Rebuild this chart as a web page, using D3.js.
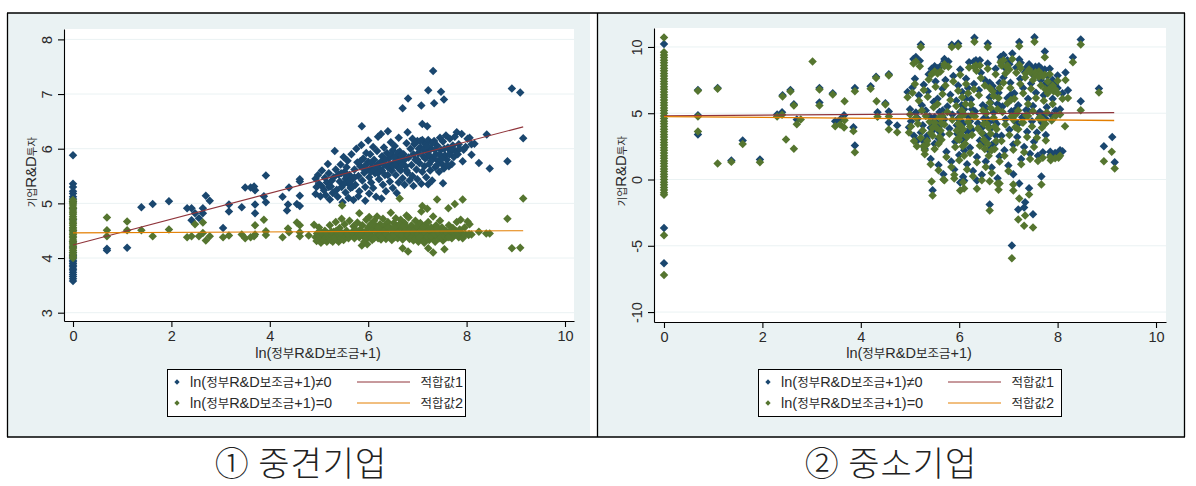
<!DOCTYPE html>
<html><head><meta charset="utf-8">
<script src="https://cdnjs.cloudflare.com/ajax/libs/d3/7.8.5/d3.min.js"></script>
<style>html,body{margin:0;padding:0;background:#fff}svg{display:block}</style></head><body>
<svg id="c" width="1196" height="486"></svg>
<script>
const xTicks=[0,2,4,6,8,10];
const yTicks1=[3,4,5,6,7,8];
const yTicks2=[-10,-5,0,5,10];
const xTitle="ln(정부R&D보조금+1)";
const yTitle="기업R&D투자";
const legendLabels=["ln(정부R&D보조금+1)≠0","ln(정부R&D보조금+1)=0","적합값1","적합값2"];
const titles=["① 중견기업","② 중소기업"];

// Panel 1: x = 0 columns
const zero1Blue=[3.58,3.62,3.66,3.7,3.74,3.78,3.8,3.84,3.87,3.9,3.93,3.96,4,4.05,4.1,4.2,4.3,4.5,4.7,4.9,5.03,5.08,5.12,5.18,5.22,5.3,5.36,5.88];
const zero1Green=[4.0,4.03,4.07,4.1,4.14,4.17,4.2,4.24,4.27,4.3,4.33,4.37,4.4,4.43,4.46,4.5,4.53,4.56,4.6,4.63,4.66,4.7,4.73,4.76,4.8,4.83,4.86,4.9,4.93,4.97,5,5.03,5.06];
const fit1a=[[0,4.24],[9.15,6.4]];
const fit1b=[[0,4.46],[9.15,4.5]];
const blue1=[[.69,4.14],[.69,4.17],[1.1,4.19],[1.39,4.93],[1.62,4.99],[1.95,5.04],[2.32,4.91],[2.41,4.91],[2.64,4.91],[2.48,4.82],[2.64,4.82],[2.41,4.69],[2.56,4.73],[2.7,5.14],[2.78,5.05],[3.05,4.55],[3.17,4.98],[3.17,4.85],[3.43,4.93],[3.5,5.29],[3.61,5.29],[3.68,5.31],[3.7,5.24],[3.7,4.98],[3.7,4.82],[3.88,5.13],[3.92,5.02],[3.92,5.51],[4.26,5.12],[4.37,4.98],[4.35,4.87],[4.39,5.29],[4.55,4.99],[4.61,4.95],[4.61,5.14],[4.61,5.44],[4.61,5.4],[4.93,5.17],[4.95,5.3],[4.93,5.45],[4.98,5.52],[5.0,5.36],
[7.32,7.42],[7.22,7.07],[7.48,7.04],[6.81,6.92],[7.54,6.9],[7.34,6.83],[7.08,6.79],[6.7,6.74],[8.92,7.1],[9.09,7.03],[9.15,6.19],[8.83,5.77],[8.47,5.64],[8.25,5.74],[8.1,5.89],[8.41,6.26],[7.92,5.77],[7.52,5.37],[7.22,5.35],[6.58,5.19],[6.27,5.09],[5.87,6.41],[7.1,6.45],[7.2,6.41],
[5.03,5.13],[5.05,5.32],[5.06,5.6],[5.1,5.24],[5.12,5.47],[5.14,5.15],[5.16,5.38],[5.18,5.72],[5.2,5.55],[5.22,5.07],[5.24,5.31],[5.26,5.42],[5.28,5.19],[5.3,5.48],[5.32,5.96],[5.34,5.62],[5.36,5.25],[5.38,5.12],[5.4,5.53],[5.42,5.4],[5.44,5.71],[5.46,5.3],[5.48,5.02],[5.5,5.85],[5.52,5.58],[5.54,5.45],[5.54,5.2],[5.56,5.66],[5.58,5.78],[5.6,5.36],[5.6,5.1],[5.62,5.52],[5.64,5.28],[5.66,5.9],[5.68,5.44],[5.7,5.06],[5.72,5.62],[5.74,5.34],[5.76,6.0],[5.78,5.75],[5.8,5.5],[5.8,5.13],[5.82,5.22],[5.84,5.68],[5.86,6.07],[5.88,5.42],[5.9,5.82],[5.92,5.56],[5.94,5.3],[5.94,5.05],[5.96,5.92],[5.98,5.62],[6.0,6.15],[6.0,5.76],[6.02,5.48],[6.02,5.18],[6.04,5.9],[6.06,5.38],[6.08,5.66],[6.1,6.03],[6.1,5.28],[6.12,5.8],[6.14,5.55],[6.16,5.12],[6.18,5.96],[6.2,5.72],[6.2,6.22],[6.22,5.44],[6.24,5.62],[6.26,6.27],[6.28,5.86],[6.3,5.34],[6.3,5.74],[6.32,6.02],[6.34,5.52],[6.36,5.22],[6.38,5.92],[6.4,6.32],[6.4,5.66],[6.42,5.82],[6.44,5.4],[6.46,6.12],[6.48,5.6],[6.5,5.97],[6.5,5.28],[6.52,5.74],[6.54,6.05],[6.56,5.52],[6.58,5.86],[6.6,5.66],[6.62,6.2],[6.62,5.38],[6.64,5.95],[6.66,5.6],[6.68,5.78],[6.7,5.46],[6.72,5.9],[6.74,5.34],[6.76,5.68],[6.78,6.1],[6.8,6.3],[6.8,5.56],[6.82,5.84],[6.84,5.42],[6.86,6.0],[6.88,5.7],[6.9,6.18],[6.9,5.5],[6.92,5.32],[6.94,6.08],[6.96,5.8],[6.98,5.62],[7.0,6.14],[7.0,5.44],[7.02,5.92],[7.04,5.74],[7.06,6.02],[7.08,5.36],[7.1,6.16],[7.1,5.58],[7.12,5.86],[7.14,5.68],[7.16,6.08],[7.18,5.48],[7.2,5.94],[7.22,6.16],[7.24,5.72],[7.26,5.6],[7.28,6.0],[7.3,5.42],[7.32,5.82],[7.34,6.14],[7.36,5.66],[7.38,5.9],[7.4,6.06],[7.42,5.78],[7.44,5.58],[7.46,6.2],[7.48,5.98],[7.5,5.72],[7.52,6.13],[7.54,5.64],[7.56,5.88],[7.58,6.24],[7.6,5.8],[7.62,6.02],[7.64,5.68],[7.66,6.18],[7.68,5.95],[7.7,5.72],[7.72,6.06],[7.74,5.85],[7.76,6.22],[7.78,5.96],[7.8,6.3],[7.82,5.9],[7.84,6.08],[7.86,6.0],[7.9,6.27],[7.94,5.98],[7.98,6.03],[8.02,6.18],[8.06,6.2],[8.1,6.08],[8.16,6.09],
[5.84,5.77],[5.9,5.64],[5.95,5.7],[6.05,5.58],[6.06,5.74],[6.12,5.62],[6.16,5.68],[6.2,5.55],[6.25,5.75],[6.28,5.6],[6.32,5.7],[6.35,5.8],[6.4,5.52],[6.43,5.7],[6.46,5.9],[6.5,5.68],[6.53,5.84],[6.56,5.72],[6.6,5.92],[6.63,5.78],[6.67,5.88],[6.7,5.7],[6.74,5.8],[6.78,5.6],[6.92,5.9],[6.95,6.1],[7.0,5.8],[7.03,6.0],[7.06,6.14],[7.12,5.98],[7.16,5.82],[7.2,6.05],[7.24,5.88],[7.28,5.78],[7.3,6.1],[7.35,5.98],[7.4,5.7],[7.45,5.9],[7.5,5.82],[7.55,6.0],[7.6,5.7],[7.65,5.9],[7.7,6.0],[5.2,5.3],[5.3,5.2],[5.45,5.55],[5.5,5.35],[5.56,5.5],[5.62,5.4],[5.68,5.3],[5.72,5.48]];
const green1=[[.69,4.74],[.69,4.51],[.69,4.4],[1.1,4.67],[1.1,4.51],[1.39,4.51],[1.62,4.4],[1.95,4.52],[2.32,4.38],[2.41,4.4],[2.48,4.62],[2.56,4.4],[2.64,4.65],[2.64,4.46],[2.7,4.32],[2.78,4.4],[3.05,4.38],[3.17,4.41],[3.43,4.43],[3.5,4.36],[3.61,4.38],[3.68,4.4],[3.7,4.43],[3.7,4.6],[3.88,4.7],[3.92,4.49],[3.92,4.42],[4.26,4.38],[4.37,4.54],[4.39,4.47],[4.55,4.65],[4.61,4.6],[4.61,4.47],[4.61,4.4],[4.79,4.41],[4.9,4.61],[4.93,4.38],[4.95,4.31],
[9.15,5.09],[8.83,4.72],[8.92,4.18],[9.09,4.19],[7.92,5.07],[7.76,4.99],[7.63,4.91],[7.4,5.07],[6.64,5.09],[5.47,4.96],[5.82,4.82],[6.46,4.83],[7.1,4.95],[7.08,4.85],[7.2,4.9],[6.7,4.18],[6.81,4.12],[7.22,4.18],[7.32,4.1],[7.55,4.16],[5.87,4.23],[5.98,4.25],[8.4,4.45],[8.47,4.45],[8.25,4.48],[8.1,4.43],[8.05,4.44],
[4.96,4.45],[4.98,4.33],[5.0,4.56],[5.02,4.4],[5.04,4.28],[5.06,4.36],[5.08,4.43],[5.1,4.33],[5.12,4.5],[5.14,4.38],[5.16,4.3],[5.18,4.45],[5.2,4.36],[5.22,4.6],[5.24,4.33],[5.26,4.41],[5.28,4.3],[5.3,4.48],[5.32,4.38],[5.34,4.66],[5.36,4.34],[5.38,4.44],[5.4,4.3],[5.42,4.55],[5.44,4.37],[5.46,4.72],[5.48,4.45],[5.5,4.33],[5.52,4.62],[5.54,4.4],[5.56,4.5],[5.6,4.36],[5.62,4.68],[5.66,4.42],[5.7,4.58],[5.72,4.36],[5.76,4.46],[5.78,4.65],[5.82,4.38],[5.84,4.52],[5.88,4.6],[5.9,4.4],[5.92,4.3],[5.94,4.48],[5.96,4.7],[5.98,4.36],[6.0,4.56],[6.02,4.75],[6.04,4.44],[6.05,4.62],[6.08,4.33],[6.1,4.52],[6.12,4.68],[6.14,4.4],[6.16,4.58],[6.18,4.76],[6.2,4.36],[6.22,4.48],[6.24,4.62],[6.26,4.34],[6.28,4.54],[6.3,4.72],[6.32,4.42],[6.34,4.6],[6.36,4.35],[6.38,4.5],[6.4,4.66],[6.42,4.4],[6.44,4.56],[6.48,4.33],[6.5,4.46],[6.52,4.64],[6.54,4.38],[6.56,4.73],[6.58,4.52],[6.6,4.36],[6.62,4.6],[6.64,4.44],[6.66,4.7],[6.68,4.55],[6.7,4.34],[6.72,4.48],[6.74,4.64],[6.76,4.4],[6.78,4.78],[6.8,4.55],[6.82,4.74],[6.84,4.35],[6.86,4.46],[6.88,4.6],[6.9,4.4],[6.92,4.32],[6.94,4.52],[6.96,4.68],[6.98,4.42],[7.0,4.58],[7.02,4.3],[7.04,4.47],[7.06,4.64],[7.08,4.36],[7.1,4.55],[7.12,4.43],[7.14,4.28],[7.16,4.6],[7.18,4.38],[7.2,4.5],[7.22,4.66],[7.24,4.33],[7.26,4.44],[7.28,4.56],[7.3,4.37],[7.32,4.76],[7.34,4.48],[7.36,4.3],[7.38,4.6],[7.4,4.42],[7.42,4.52],[7.44,4.36],[7.46,4.68],[7.48,4.46],[7.5,4.56],[7.52,4.32],[7.54,4.42],[7.58,4.5],[7.6,4.38],[7.64,4.6],[7.66,4.46],[7.7,4.36],[7.72,4.55],[7.76,4.42],[7.78,4.5],[7.8,4.66],[7.84,4.38],[7.88,4.7],[7.9,4.46],[7.92,4.36],[7.96,4.56],[7.98,4.43],[8.02,4.67],[8.04,4.42],[8.06,4.62],
[5.05,4.46],[5.15,4.46],[5.25,4.48],[5.35,4.5],[5.45,4.45],[5.58,4.44],[5.68,4.48],[5.74,4.52],[5.8,4.44],[5.86,4.43],[5.95,4.38],[6.0,4.46],[6.06,4.38],[6.12,4.36],[6.16,4.48],[6.2,4.56],[6.24,4.42],[6.28,4.38],[6.32,4.5],[6.36,4.44],[6.4,4.56],[6.44,4.38],[6.48,4.52],[6.52,4.42],[6.56,4.58],[6.6,4.46],[6.64,4.62],[6.68,4.42],[6.72,4.58],[6.76,4.5],[6.8,4.42],[6.84,4.5],[6.88,4.38],[6.92,4.48],[6.96,4.36],[7.0,4.44],[7.04,4.38],[7.08,4.5],[7.12,4.56],[7.16,4.46],[7.2,4.4],[7.24,4.52],[7.28,4.4],[7.32,4.5],[7.36,4.44],[7.4,4.54],[7.44,4.46],[7.48,4.38],[7.52,4.48],[7.56,4.4],[7.6,4.46],[7.64,4.38],[7.68,4.5],[7.74,4.48],[7.82,4.46],[7.86,4.52]];

// Panel 2
const zero2Blue=[10.22,-3.65,-6.32];
const zero2Green=[10.72,9.6,9.4,9.2,9,8.8,8.6,8.4,8.2,8,7.8,7.6,7.4,7.2,7,6.8,6.6,6.4,6.2,6,5.8,5.6,5.4,5.2,5,4.8,4.6,4.4,4.2,4,3.8,3.6,3.4,3.2,3,2.8,2.6,2.4,2.2,2,1.8,1.6,1.4,1.2,1,.8,.6,.4,.2,0,-.2,-.4,-.6,-.8,-1,-1.15,-4.2,-7.2];
const fit2a=[[0,4.8],[9.15,5.05]];
const fit2b=[[0,4.75],[9.15,4.45]];
const blue2=[[.69,3.4],[.69,6.75],[1.09,6.9],[.69,4.85],[1.37,1.43],[1.6,2.94],[1.95,1.51],[2.3,4.9],[2.4,5.08],[2.41,6.35],[2.57,6.75],[2.64,5.68],[2.7,4.53],[3.16,6.9],[3.16,5.81],[3.43,6.5],[3.48,4.4],[3.58,4.53],[3.66,4.85],[3.85,3.95],[3.88,2.57],[3.88,6.9],[4.2,7.04],[4.31,7.75],[4.34,5.08],[4.5,5.75],[4.57,7.95],[4.57,5.13],[4.57,4.3],[4.74,4.08],
[7.53,10.74],[8.47,10.57],[7.22,10.37],[6.31,10.7],[6.58,10.26],[5.85,10.17],[5.98,10.26],[5.22,10.19],[7.07,-4.98],[7.5,-2.62],[7.32,-2.11],[7.34,-1.71],[7.2,-2.26],[7.42,-.66],[7.67,.23],[7.22,-.3],[7.1,.4],[6.62,-1.89],[6.36,-.08],[6.02,-.23],[6.1,-.1],[5.46,-.81],[9.11,3.2],[8.94,2.51],[9.16,1.31],[8.84,6.87],[8.47,5.91],[8.31,9.23],[8.16,8.07],[8.21,6.74],[8.1,2.14],[7.74,9.66],
[4.95,6.6],[4.98,3.95],[5.0,5.3],[5.02,4.4],[5.05,6.95],[5.08,3.3],[5.1,7.6],[5.12,5.05],[5.14,2.9],[5.16,4.6],[5.18,6.35],[5.2,8.95],[5.22,3.55],[5.24,5.6],[5.26,4.1],[5.28,7.15],[5.3,2.3],[5.32,5.2],[5.34,3.05],[5.36,6.65],[5.38,7.95],[5.4,4.75],[5.42,1.55],[5.44,8.35],[5.46,3.7],[5.48,5.85],[5.5,2.7],[5.52,7.4],[5.54,4.3],[5.56,6.1],[5.58,1.1],[5.6,5.1],[5.62,8.55],[5.64,3.4],[5.66,6.85],[5.68,.4],[5.7,4.55],[5.72,7.5],[5.74,2.1],[5.76,5.5],[5.78,8.9],[5.8,3.85],[5.82,6.4],[5.84,1.35],[5.86,4.9],[5.88,7.8],[5.9,.75],[5.92,2.85],[5.94,5.95],[5.96,3.45],[5.98,7.1],[6.0,1.85],[6.02,8.3],[6.04,4.4],[6.06,6.6],[6.08,.2],[6.1,5.3],[6.12,3.1],[6.14,7.6],[6.16,1.15],[6.18,4.75],[6.2,8.85],[6.22,2.4],[6.24,6.05],[6.26,3.75],[6.28,.65],[6.3,7.2],[6.32,5.15],[6.34,9.0],[6.36,1.7],[6.38,4.25],[6.4,6.75],[6.42,2.95],[6.44,8.05],[6.46,.35],[6.48,5.6],[6.5,3.4],[6.52,7.5],[6.54,1.35],[6.56,4.6],[6.58,8.75],[6.6,2.2],[6.62,6.2],[6.64,3.85],[6.66,.9],[6.68,7.05],[6.7,5.05],[6.72,2.7],[6.74,8.35],[6.76,4.2],[6.78,.1],[6.8,6.55],[6.82,1.75],[6.84,9.25],[6.86,3.3],[6.88,5.5],[6.9,7.7],[6.92,2.2],[6.94,4.55],[6.96,8.9],[6.98,6.15],[7.0,1.05],[7.02,3.75],[7.04,7.3],[7.06,5.15],[7.08,9.5],[7.1,2.65],[7.12,6.5],[7.14,4.35],[7.16,8.45],[7.18,3.2],[7.2,5.6],[7.22,9.05],[7.24,7.6],[7.26,1.55],[7.28,4.7],[7.3,6.9],[7.32,2.45],[7.34,8.1],[7.36,5.25],[7.38,3.6],[7.4,6.1],[7.42,8.7],[7.44,1.95],[7.46,7.25],[7.48,4.4],[7.5,5.55],[7.52,2.85],[7.54,8.2],[7.56,6.55],[7.58,3.55],[7.6,1.8],[7.62,8.55],[7.64,5.1],[7.66,7.5],[7.68,4.3],[7.7,2.05],[7.72,6.35],[7.74,8.3],[7.76,3.35],[7.78,5.45],[7.8,7.8],[7.84,8.35],[7.86,1.85],[7.88,4.85],[7.9,6.1],[7.92,7.05],[7.96,5.2],[8.0,7.85],[8.02,2.05],[8.05,5.3],[8.1,6.5],
[5.07,9.1],[5.12,9.25],[5.27,2.9],[5.3,2.6],[5.35,3.3],[5.42,3.9],[5.46,4.3],[5.5,4.7],[5.5,8.55],[5.56,8.4],[5.7,8.93],[5.7,9.1],[5.58,3.1],[5.6,3.6],[5.62,4.1],[5.64,4.65],[5.66,5.2],[5.95,4.1],[5.98,4.6],[6.0,3.4],[6.02,5.1],[6.04,3.8],[6.05,5.6],[6.07,2.9],[6.08,4.2],[6.1,2.2],[6.13,6.1],[6.16,3.6],[6.18,6.9],[6.22,4.4],[6.26,5.3],[6.3,8.9],[6.35,8.6],[6.42,9.0],[6.46,3.9],[6.5,4.6],[6.52,2.7],[6.55,5.4],[6.58,3.1],[6.6,4.3],[6.62,7.3],[6.64,5.8],[6.66,2.6],[6.7,6.7],[6.72,4.4],[6.75,3.3],[6.78,5.7],[6.82,7.3],[6.86,9.0],[6.9,9.4],[6.94,8.4],[6.98,9.0],[7.02,8.7],[7.05,6.4],[7.1,4.9],[7.15,5.3],[7.2,4.2],[7.25,8.8],[7.3,4.7],[7.35,8.4],[7.4,5.2],[7.45,8.5],[7.5,7.9],[7.55,8.5],[7.58,8.3],[7.62,8.15],[7.66,8.4],[7.7,8.2],[7.75,7.2],[7.8,6.9],[7.85,7.3],[7.9,7.5],[7.95,7.2],[8.0,6.9],[7.62,5.0],[7.7,4.9],[7.75,4.6],[7.85,2.1],[7.95,2.0],[8.05,2.2]];
const green2=[[.69,6.69],[1.09,6.84],[.69,4.75],[.69,3.62],[1.09,1.21],[1.37,1.33],[1.6,2.67],[1.95,1.31],[2.3,4.75],[2.4,4.88],[2.48,3.02],[2.64,2.32],[2.7,4.17],[2.78,4.53],[2.41,6.26],[2.57,6.64],[2.64,5.58],[3.02,8.91],[3.16,6.79],[3.16,5.58],[3.43,6.42],[3.48,4.02],[3.58,4.15],[3.67,5.91],[3.66,3.92],[3.67,4.47],[3.85,3.65],[3.88,2.06],[3.88,6.66],[4.2,6.84],[4.31,7.65],[4.32,5.91],[4.34,4.73],[4.5,5.66],[4.57,7.85],[4.57,3.77],[4.57,4.75],[4.74,3.57],
[8.47,10.19],[7.53,10.4],[7.22,10.05],[6.31,10.4],[6.58,10.0],[5.85,10.0],[5.98,10.05],[5.22,10.0],[7.07,-5.94],[7.5,-3.62],[7.32,-3.49],[7.2,-3.02],[7.34,-2.72],[7.22,-1.43],[7.42,-1.13],[7.67,-.38],[7.1,-.83],[7.1,-.38],[6.62,-2.34],[6.36,-.7],[6.8,-.78],[6.82,-.3],[6.62,-.13],[6.1,-.68],[6.02,-.83],[5.46,-1.21],[5.44,-.15],[5.7,-.05],[5.9,.08],[9.1,2.09],[8.94,1.38],[9.16,.83],[8.84,6.56],[8.47,5.23],[8.31,8.85],[8.16,7.5],[8.21,6.14],[8.15,4.02],[7.74,9.23],
[4.95,6.2],[4.98,3.55],[5.0,4.9],[5.02,4.0],[5.05,6.55],[5.08,2.9],[5.1,7.2],[5.12,4.65],[5.14,2.5],[5.16,4.2],[5.18,5.95],[5.2,8.55],[5.22,3.15],[5.24,5.2],[5.26,3.7],[5.28,6.75],[5.3,1.9],[5.32,4.8],[5.34,2.65],[5.36,6.25],[5.38,7.55],[5.4,4.35],[5.42,1.15],[5.44,7.95],[5.46,3.3],[5.48,5.45],[5.5,2.3],[5.52,7.0],[5.54,3.9],[5.56,5.7],[5.58,.7],[5.6,4.7],[5.62,8.15],[5.64,3.0],[5.66,6.45],[5.68,0],[5.7,4.15],[5.72,7.1],[5.74,1.7],[5.76,5.1],[5.78,8.5],[5.8,3.45],[5.82,6.0],[5.84,.95],[5.86,4.5],[5.88,7.4],[5.9,.35],[5.92,2.45],[5.94,5.55],[5.96,3.05],[5.98,6.7],[6.0,1.45],[6.02,7.9],[6.04,4.0],[6.06,6.2],[6.08,-.2],[6.1,4.9],[6.12,2.7],[6.14,7.2],[6.16,.75],[6.18,4.35],[6.2,8.45],[6.22,2.0],[6.24,5.65],[6.26,3.35],[6.28,.25],[6.3,6.8],[6.32,4.75],[6.34,8.6],[6.36,1.3],[6.38,3.85],[6.4,6.35],[6.42,2.55],[6.44,7.65],[6.46,-.05],[6.48,5.2],[6.5,3.0],[6.52,7.1],[6.54,.95],[6.56,4.2],[6.58,8.35],[6.6,1.8],[6.62,5.8],[6.64,3.45],[6.66,.5],[6.68,6.65],[6.7,4.65],[6.72,2.3],[6.74,7.95],[6.76,3.8],[6.78,-.3],[6.8,6.15],[6.82,1.35],[6.84,8.85],[6.86,2.9],[6.88,5.1],[6.9,7.3],[6.92,1.8],[6.94,4.15],[6.96,8.5],[6.98,5.75],[7.0,.65],[7.02,3.35],[7.04,6.9],[7.06,4.75],[7.08,9.1],[7.1,2.25],[7.12,6.1],[7.14,3.95],[7.16,8.05],[7.18,2.8],[7.2,5.2],[7.22,8.65],[7.24,7.2],[7.26,1.15],[7.28,4.3],[7.3,6.5],[7.32,2.05],[7.34,7.7],[7.36,4.85],[7.38,3.2],[7.4,5.7],[7.42,8.3],[7.44,1.55],[7.46,6.85],[7.48,4.0],[7.5,5.15],[7.52,2.45],[7.54,7.8],[7.56,6.15],[7.58,3.15],[7.6,1.4],[7.62,8.15],[7.64,4.7],[7.66,7.1],[7.68,3.9],[7.7,1.65],[7.72,5.95],[7.74,7.9],[7.76,2.95],[7.78,5.05],[7.8,7.4],[7.84,7.95],[7.86,1.45],[7.88,4.45],[7.9,5.7],[7.92,6.65],[7.96,4.8],[8.0,7.45],[8.02,1.65],[8.05,4.9],[8.1,6.1],
[5.07,8.75],[5.12,8.9],[5.27,2.5],[5.3,2.2],[5.35,2.9],[5.42,3.5],[5.46,3.9],[5.5,4.3],[5.5,8.15],[5.56,8.0],[5.7,8.55],[5.7,8.7],[5.58,2.7],[5.6,3.2],[5.62,3.7],[5.64,4.25],[5.66,4.8],[5.95,3.7],[5.98,4.2],[6.0,3.0],[6.02,4.7],[6.04,3.4],[6.05,5.2],[6.07,2.5],[6.08,3.8],[6.1,1.8],[6.13,5.7],[6.16,3.2],[6.18,6.5],[6.22,4.0],[6.26,4.9],[6.3,8.5],[6.35,8.2],[6.42,8.6],[6.46,3.5],[6.5,4.2],[6.52,2.3],[6.55,5.0],[6.58,2.7],[6.6,3.9],[6.62,6.9],[6.64,5.4],[6.66,2.2],[6.7,6.3],[6.72,4.0],[6.75,2.9],[6.78,5.3],[6.82,6.9],[6.86,8.6],[6.9,9.0],[6.94,8.0],[6.98,8.6],[7.02,8.3],[7.05,6.0],[7.1,4.5],[7.15,4.9],[7.2,3.8],[7.25,8.4],[7.3,4.3],[7.35,8.0],[7.4,4.8],[7.45,8.1],[7.5,7.5],[7.55,8.1],[7.58,7.9],[7.62,7.75],[7.66,8.0],[7.7,7.8],[7.75,6.8],[7.8,6.5],[7.85,6.9],[7.9,7.1],[7.95,6.8],[8.0,6.5],[7.62,4.6],[7.7,4.5],[7.75,4.2],[7.85,1.7],[7.95,1.6],[8.05,1.8]];

const C={navy:"#1a476f",green:"#55752f",maroon:"#90353b",orange:"#e37e00",bg:"#eaf2f3",text:"#2a2a2a"};
const svg=d3.select("#c");
const LATIN="'Liberation Sans',Arial,sans-serif", CJK="'Noto Sans CJK KR','Liberation Sans',sans-serif";

function rich(sel,str,size,ksize){
  sel.attr("font-family",LATIN).attr("font-size",size).attr("fill",C.text);
  str.split(/([가-힣]+)/).filter(s=>s).forEach(s=>{
    const k=/[가-힣]/.test(s);
    sel.append("tspan").text(s).attr("font-family",k?CJK:LATIN).attr("font-size",k?ksize:size);
  });
  return sel;
}
const diamond=d3.symbol().type(d3.symbolDiamond2);

function panel(o){
  const g=svg.append("g");
  g.append("rect").attr("x",o.bgL).attr("y",13).attr("width",o.bgR-o.bgL).attr("height",424).attr("fill",C.bg);
  g.append("rect").attr("x",o.L).attr("y",o.T).attr("width",o.R-o.L).attr("height",o.B-o.T).attr("fill","#fff");
  const x=d3.scaleLinear().domain(o.xd).range([o.L,o.R]);
  const y=d3.scaleLinear().domain(o.yd).range([o.B,o.T]);
  g.append("g").selectAll("line").data(o.yTicks).join("line")
    .attr("x1",o.L).attr("x2",o.R).attr("y1",d=>y(d)).attr("y2",d=>y(d)).attr("stroke",C.bg).attr("stroke-width",1);
  const pts=(data,col,s)=>g.append("g").selectAll("path").data(data).join("path")
    .attr("d",diamond.size(s)()).attr("transform",d=>`translate(${x(d[0])},${y(d[1])})`).attr("fill",col);
  pts(o.zeroBlue.map(v=>[0,v]),C.navy,o.size);
  pts(o.blue,C.navy,o.size);
  pts(o.zeroGreen.map(v=>[0,v]),C.green,o.size);
  pts(o.green,C.green,o.size);
  const line=d3.line().x(d=>x(d[0])).y(d=>y(d[1]));
  g.append("path").attr("d",line(o.fitA)).attr("fill","none").attr("stroke",C.maroon).attr("stroke-width",o.lw);
  g.append("path").attr("d",line(o.fitB)).attr("fill","none").attr("stroke",C.orange).attr("stroke-width",o.lw);

  const ax=g.append("g").attr("transform",`translate(0,${o.B})`).call(d3.axisBottom(x).tickValues(xTicks).tickFormat(d=>String(d)).tickSize(6).tickSizeOuter(0).tickPadding(4));
  const ay=g.append("g").attr("transform",`translate(${o.L},0)`).call(d3.axisLeft(y).tickValues(o.yTicks).tickFormat(d=>String(d)).tickSize(6).tickSizeOuter(0));
  [ax,ay].forEach(a=>{a.selectAll("path,line").attr("stroke","#000").attr("stroke-width",1.1);
    a.selectAll("text").attr("font-family",LATIN).attr("font-size",14.5).attr("fill",C.text);});
  ay.selectAll(".tick text").attr("x",0).attr("y",0).attr("dy",0).attr("text-anchor","middle").attr("transform",`translate(-12,0) rotate(-90)`);

  rich(g.append("text").attr("x",o.xtx).attr("y",358).attr("text-anchor","middle"),xTitle,14.5,12.5);
  rich(g.append("text").attr("transform",`translate(${o.ytx},${o.yty}) rotate(-90)`).attr("text-anchor","middle"),yTitle,15,10.5);

  // legend
  const lg=g.append("g").attr("transform",`translate(${o.legX},369)`);
  lg.append("rect").attr("x",.5).attr("y",.5).attr("width",o.legW).attr("height",47).attr("fill","#fff").attr("stroke","#000");
  [[13,C.navy],[34,C.green]].forEach((r,i)=>{
    lg.append("path").attr("d",diamond.size(18)()).attr("transform",`translate(10,${r[0]})`).attr("fill",r[1]);
    rich(lg.append("text").attr("x",23).attr("y",r[0]+5),legendLabels[i],14.5,12.5);
    lg.append("line").attr("x1",190).attr("x2",243).attr("y1",r[0]).attr("y2",r[0]).attr("stroke",i?C.orange:C.maroon).attr("stroke-width",1);
    rich(lg.append("text").attr("x",296).attr("y",r[0]+5).attr("text-anchor","end"),legendLabels[i+2],14.5,12.5);
  });
  g.append("text").attr("x",o.ttx).attr("y",476).attr("text-anchor","middle").attr("font-family",CJK).attr("font-weight",300).attr("font-size",34).attr("letter-spacing",1).attr("fill","#222").text(o.title);
}

panel({bgL:8,bgR:590,L:64,R:574,T:29,B:321,xd:[-.183,10.183],yd:[2.848,8.19],yTicks:yTicks1,
  zeroBlue:zero1Blue,zeroGreen:zero1Green,blue:blue1,green:green1,fitA:fit1a,fitB:fit1b,size:46,lw:1.1,
  xtx:318,ytx:36,yty:172,legX:167,legW:298,ttx:301,title:titles[0]});
panel({bgL:598,bgR:1184,L:654,R:1166,T:28,B:322,xd:[-.203,10.203],yd:[-10.75,11.43],yTicks:yTicks2,
  zeroBlue:zero2Blue,zeroGreen:zero2Green,blue:blue2,green:green2,fitA:fit2a,fitB:fit2b,size:46,lw:1.3,
  xtx:909,ytx:626,yty:171,legX:758,legW:303,ttx:891,title:titles[1]});

// frame
const f=svg.append("g").attr("stroke","#000").attr("stroke-width",1.3);
[[7,13,1185,13],[7,437,1185,437],[7.5,13,7.5,437],[597.5,13,597.5,437],[1184.5,13,1184.5,437]].forEach(a=>
  f.append("line").attr("x1",a[0]).attr("y1",a[1]).attr("x2",a[2]).attr("y2",a[3]));
</script></body></html>
